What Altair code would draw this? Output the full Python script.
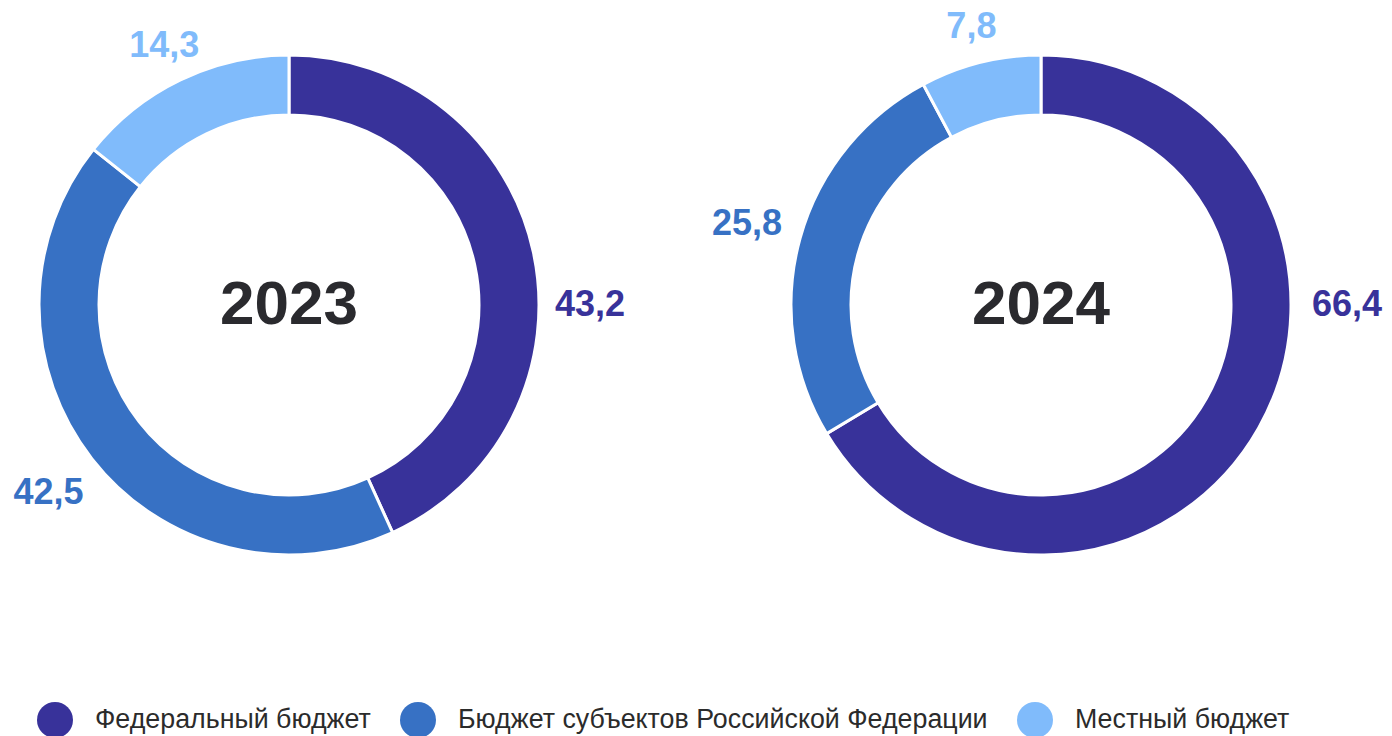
import math
import altair as alt
import pandas as pd

years = ["2023", "2024"]
categories = [
    "Федеральный бюджет",
    "Бюджет субъектов Российской Федерации",
    "Местный бюджет",
]
values_2023 = [43.2, 42.5, 14.3]
values_2024 = [66.4, 25.8, 7.8]
colors = ["#38329a", "#3771c4", "#80bbfb"]

rows = []
for year, vals in zip(years, [values_2023, values_2024]):
    for i, (c, v) in enumerate(zip(categories, vals)):
        rows.append({"year": year, "category": c, "value": v, "idx": i})
df = pd.DataFrame(rows)

FONT = "Liberation Sans"
color_scale = alt.Scale(domain=categories, range=colors)
centers = {"2023": (281, 297), "2024": (1033, 297)}
fed_label_r = {"2023": 301, "2024": 306}
other_label_r = {1: 305, 2: 287}

legend = alt.Legend(
    orient="none", legendX=29, legendY=694, direction="horizontal", columns=3,
    title=None, symbolType="circle", symbolSize=1296, symbolStrokeWidth=0,
    labelFontSize=26.8, labelFont=FONT, labelColor="#2b2b2b", labelOffset=22,
    columnPadding=29, labelLimit=1000,
)

layers = []
for k, year in enumerate(years):
    cx, cy = centers[year]
    base = alt.Chart(df).transform_filter(alt.datum.year == year).transform_calculate(
        label="replace(format(datum.value, '.1f'), '.', ',')"
    )
    pos = dict(x=alt.value(cx), y=alt.value(cy))
    arc = base.mark_arc(innerRadius=190, outerRadius=250, stroke="white", strokeWidth=3).encode(
        theta=alt.Theta("value:Q", stack=True),
        color=alt.Color("category:N", scale=color_scale, legend=legend if k == 0 else None),
        order=alt.Order("idx:Q"),
        **pos,
    )
    layers.append(arc)
    for j in (1, 2):
        other = base.transform_calculate(
            txt=f"datum.idx == {j} ? datum.label : ''"
        ).mark_text(radius=other_label_r[j], fontSize=36, fontWeight="bold", font=FONT).encode(
            theta=alt.Theta("value:Q", stack=True),
            order=alt.Order("idx:Q"),
            text="txt:N",
            color=alt.Color("category:N", scale=color_scale, legend=None),
            **pos,
        )
        layers.append(other)
    fed = base.transform_filter(alt.datum.idx == 0).mark_text(
        radius=fed_label_r[year], theta=math.pi / 2, fontSize=36, fontWeight="bold", font=FONT
    ).encode(
        text="label:N",
        color=alt.Color("category:N", scale=color_scale, legend=None),
        **pos,
    )
    center = base.transform_filter(alt.datum.idx == 0).mark_text(
        fontSize=62, fontWeight="bold", font=FONT, color="#2a2a2e", baseline="middle"
    ).encode(text="year:N", **pos)
    layers += [fed, center]

chart = alt.layer(*layers).properties(
    width=1376, height=728, padding=0, autosize=alt.AutoSizeParams(type="none")
).configure_view(stroke=None)
chart.save("out.html", embed_options={"renderer": "svg", "actions": False})
